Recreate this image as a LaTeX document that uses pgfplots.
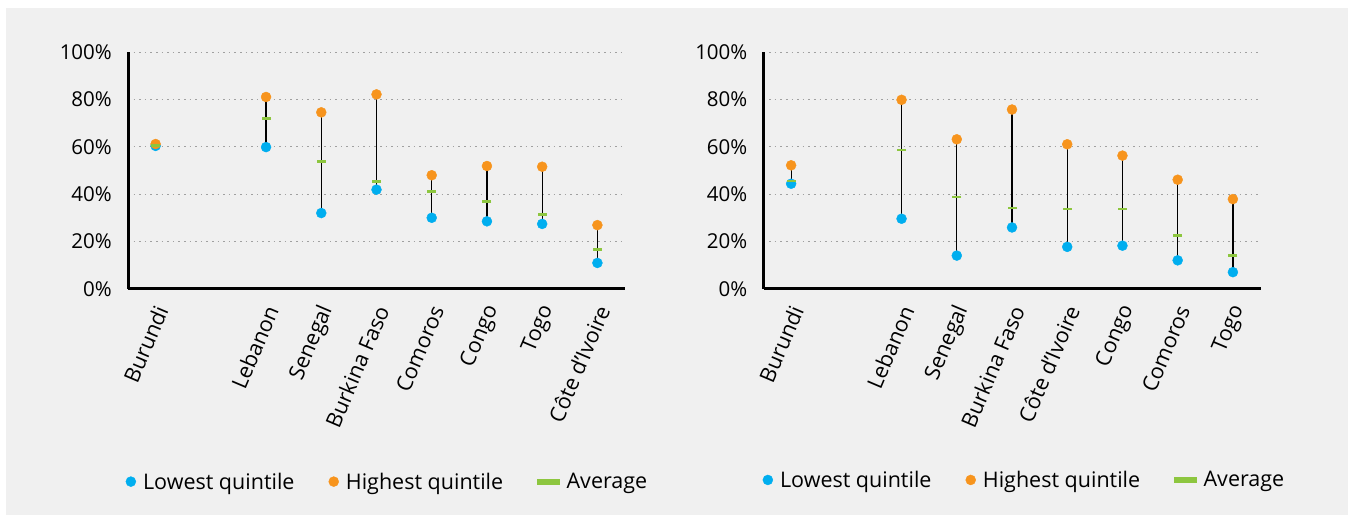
\documentclass[border=0pt]{standalone}
\usepackage{pgfplots}
\pgfplotsset{compat=1.18}
\usepackage{pgfplotstable}
\usepackage{fontspec}
\setmainfont{Open Sans}
\definecolor{cblue}{HTML}{00AEEF}
\definecolor{corange}{HTML}{F7941D}
\definecolor{cgreen}{HTML}{8DC63F}
\definecolor{bggray}{HTML}{F0F0F0}
\definecolor{gridgray}{HTML}{A0A0A0}

\pgfplotstableread{
x low high avg
0 60.4 61.2 60.5
2 59.9 81.1 72.1
3 32.0 74.6 53.9
4 41.9 82.2 45.4
5 30.0 48.0 41.2
6 28.5 51.9 37.0
7 27.4 51.6 31.5
8 10.9 26.9 16.7
}\dataL

\pgfplotstableread{
x low high avg
0 44.4 52.2 45.6
2 29.6 79.9 58.7
3 14.0 63.2 38.8
4 25.9 75.8 34.1
5 17.7 61.1 33.7
6 18.2 56.3 33.7
7 12.0 46.1 22.6
8 7.0 37.9 14.2
}\dataR

\pgfplotsset{
  dumbbell/.style={
    scale only axis, width=497pt, height=236.4pt,
    xmin=-0.5, xmax=8.5, ymin=0, ymax=100,
    clip=false,
    axis x line=bottom, axis y line=left,
    axis line style={-, line width=3pt, black},
    every outer x axis line/.append style={-},
    every outer y axis line/.append style={-},
    major tick length=0pt,
    ytick={0,20,40,60,80,100},
    yticklabel={\pgfmathprintnumber{\tick}\%},
    /pgf/number format/assume math mode=true,
    ymajorgrids,
    major grid style={gridgray, line width=1pt, dash pattern=on 1.6pt off 4pt},
    xtick={0,2,3,4,5,6,7,8},
    yticklabel style={font=\fontsize{20.5}{24}\selectfont, text=black, anchor=east, inner sep=0pt, xshift=-16pt},
    xticklabel style={font=\fontsize{21.5}{25}\selectfont, text=black, xshift=6pt, rotate=67, anchor=east, inner sep=0pt},
    xticklabel shift=18pt,
    legend columns=3,
    legend cell align=left,
    legend style={draw=none, fill=none, font=\fontsize{21.5}{25}\selectfont,
      nodes={inner sep=0pt},
      /tikz/every odd column/.append style={column sep=7pt},
      /tikz/every even column/.append style={column sep=34pt}},
  },
  dotlow/.style={legend image code/.code={\fill[cblue] (0pt,0pt) circle (5pt);}},
  dothigh/.style={legend image code/.code={\fill[corange] (0pt,0pt) circle (5pt);}},
  dashavg/.style={legend image code/.code={\fill[cgreen] (0pt,-2.5pt) rectangle (22pt,2.5pt);}},
}

\begin{document}
\begin{tikzpicture}[x=1pt,y=1pt]
\useasboundingbox (0,0) rectangle (1348,515);
\fill[white] (0,0) rectangle (1348,515);
\fill[bggray] (6,0) rectangle (1348,507);

\begin{axis}[dumbbell, at={(128pt,226.3pt)}, anchor=south west,
  xticklabels={Burundi,Lebanon,Senegal,Burkina Faso,Comoros,Congo,Togo,Côte d’Ivoire},
  legend style={at={(axis description cs:0.52,-0.816)}, anchor=center}]
\addlegendimage{dotlow}\addlegendentry{Lowest quintile}
\addlegendimage{dothigh}\addlegendentry{Highest quintile}
\addlegendimage{dashavg}\addlegendentry{Average}
\addplot[only marks, mark=none, forget plot, error bars/.cd, y dir=plus, y explicit, error mark=none, error bar style={black, line width=1.2pt}] table[x=x, y=low, y error expr=\thisrow{high}-\thisrow{low}] {\dataL};
\addplot[only marks, mark=*, mark size=5pt, color=cblue, mark options={draw=none, fill=cblue}, forget plot] table[x=x, y=low] {\dataL};
\addplot[only marks, mark=*, mark size=5pt, color=corange, mark options={draw=none, fill=corange}, forget plot] table[x=x, y=high] {\dataL};
\addplot[only marks, mark=-, mark size=4.5pt, color=cgreen, mark options={line width=2.8pt}, forget plot] table[x=x, y=avg] {\dataL};
\end{axis}

\begin{axis}[dumbbell, at={(763.5pt,226.3pt)}, anchor=south west,
  xticklabels={Burundi,Lebanon,Senegal,Burkina Faso,Côte d’Ivoire,Congo,Comoros,Togo},
  legend style={at={(axis description cs:0.523,-0.809)}, anchor=center}]
\addlegendimage{dotlow}\addlegendentry{Lowest quintile}
\addlegendimage{dothigh}\addlegendentry{Highest quintile}
\addlegendimage{dashavg}\addlegendentry{Average}
\addplot[only marks, mark=none, forget plot, error bars/.cd, y dir=plus, y explicit, error mark=none, error bar style={black, line width=1.2pt}] table[x=x, y=low, y error expr=\thisrow{high}-\thisrow{low}] {\dataR};
\addplot[only marks, mark=*, mark size=5pt, color=cblue, mark options={draw=none, fill=cblue}, forget plot] table[x=x, y=low] {\dataR};
\addplot[only marks, mark=*, mark size=5pt, color=corange, mark options={draw=none, fill=corange}, forget plot] table[x=x, y=high] {\dataR};
\addplot[only marks, mark=-, mark size=4.5pt, color=cgreen, mark options={line width=2.8pt}, forget plot] table[x=x, y=avg] {\dataR};
\end{axis}
\end{tikzpicture}
\end{document}
